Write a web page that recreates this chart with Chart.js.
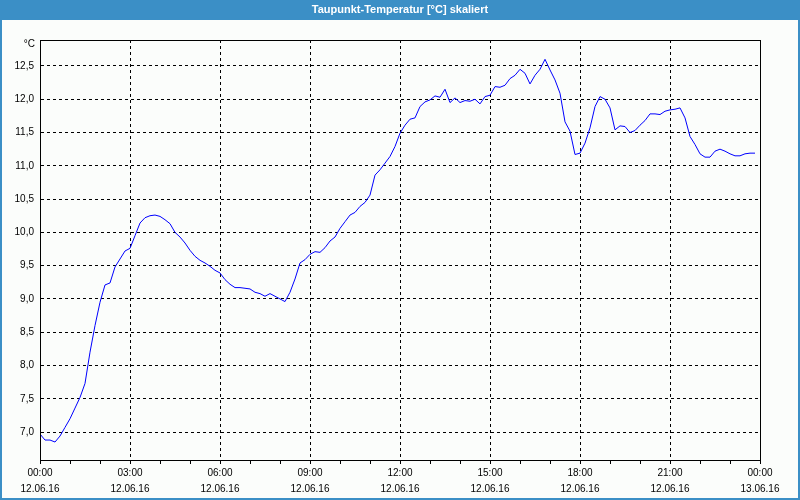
<!DOCTYPE html>
<html>
<head>
<meta charset="utf-8">
<script src="https://cdn.jsdelivr.net/npm/chart.js@4.4.1/dist/chart.umd.min.js"></script>
<style>
  html, body { margin: 0; padding: 0; background: #fbfdfb; }
  #wrap { position: relative; width: 800px; height: 500px; }
</style>
</head>
<body>
<div id="wrap"><canvas id="chart1" width="800" height="500"></canvas></div>
<script>
// Taupunkt-Temperatur, 12.06.16 00:00 - 23:50, 10-Minuten-Werte
const chartTitle = 'Taupunkt-Temperatur [°C] skaliert';
const unitLabel = '°C';
const stepMinutes = 10;
const dewpoint = [
  6.97, 6.88, 6.88, 6.85, 6.94, 7.07, 7.20, 7.36, 7.52, 7.73, 8.20, 8.60,
  8.95, 9.21, 9.24, 9.48, 9.60, 9.72, 9.76, 9.95, 10.14, 10.22, 10.25, 10.26,
  10.24, 10.19, 10.13, 10.00, 9.93, 9.84, 9.73, 9.64, 9.58, 9.54, 9.49, 9.43,
  9.39, 9.29, 9.22, 9.17, 9.17, 9.16, 9.15, 9.10, 9.08, 9.04, 9.08, 9.04,
  9.00, 8.96, 9.10, 9.30, 9.54, 9.59, 9.67, 9.71, 9.70, 9.77, 9.87, 9.93,
  10.06, 10.16, 10.26, 10.30, 10.39, 10.45, 10.56, 10.86, 10.94, 11.04, 11.14, 11.29,
  11.49, 11.61, 11.70, 11.72, 11.89, 11.96, 11.99, 12.05, 12.03, 12.15, 11.95, 12.02,
  11.95, 11.98, 11.97, 12.00, 11.93, 12.04, 12.06, 12.19, 12.18, 12.21, 12.31, 12.36,
  12.45, 12.39, 12.23, 12.36, 12.45, 12.60, 12.44, 12.29, 12.09, 11.66, 11.52, 11.17,
  11.19, 11.34, 11.57, 11.89, 12.04, 12.00, 11.87, 11.54, 11.60, 11.59, 11.50, 11.53,
  11.61, 11.68, 11.78, 11.78, 11.77, 11.82, 11.84, 11.85, 11.87, 11.72, 11.44, 11.32,
  11.18, 11.13, 11.13, 11.22, 11.25, 11.22, 11.18, 11.15, 11.15, 11.18, 11.19, 11.19
];
const yTicks = [7.0, 7.5, 8.0, 8.5, 9.0, 9.5, 10.0, 10.5, 11.0, 11.5, 12.0, 12.5];
const xTickTimes = ['00:00', '03:00', '06:00', '09:00', '12:00', '15:00', '18:00', '21:00', '00:00'];
const xTickDates = ['12.06.16', '12.06.16', '12.06.16', '12.06.16', '12.06.16', '12.06.16', '12.06.16', '12.06.16', '13.06.16'];

const points = dewpoint.map((v, i) => ({ x: i * stepMinutes, y: v }));
const tickFont = { family: 'Liberation Sans', size: 10, lineHeight: 1.6 };

// Titelleiste, Fensterrahmen und Rahmen um die Zeichenfläche
const framePlugin = {
  id: 'frame',
  beforeDraw(chart) {
    const c = chart.ctx;
    c.save();
    c.fillStyle = '#fbfdfb';
    c.fillRect(0, 0, chart.width, chart.height);
    c.fillStyle = '#3b8fc6';
    c.fillRect(0, 0, chart.width, 20);
    c.fillRect(0, 0, 2, chart.height);
    c.fillRect(chart.width - 2, 0, 2, chart.height);
    c.fillRect(0, chart.height - 2, chart.width, 2);
    c.fillStyle = '#ffffff';
    c.font = 'bold 11px "Liberation Sans"';
    c.textAlign = 'center';
    c.textBaseline = 'middle';
    c.fillText(chartTitle, chart.width / 2, 10);
    c.restore();
  },
  afterDraw(chart) {
    const a = chart.chartArea;
    const c = chart.ctx;
    c.save();
    c.strokeStyle = '#000000';
    c.lineWidth = 1;
    c.strokeRect(a.left + 0.5, a.top + 0.5, a.right - a.left, a.bottom - a.top);
    c.fillStyle = '#000000';
    c.font = '10px "Liberation Sans"';
    c.textAlign = 'right';
    c.textBaseline = 'middle';
    c.fillText(unitLabel, a.left - 5, a.top + 4);
    c.restore();
  }
};

new Chart(document.getElementById('chart1'), {
  type: 'line',
  data: {
    datasets: [{
      label: 'Taupunkt',
      data: points,
      borderColor: '#0000ff',
      borderWidth: 1,
      pointRadius: 0,
      tension: 0,
      fill: false
    }]
  },
  options: {
    responsive: false,
    animation: false,
    layout: { padding: { left: 0, right: 40, top: 40, bottom: 0 } },
    plugins: { legend: { display: false }, tooltip: { enabled: false }, title: { display: false } },
    scales: {
      x: {
        type: 'linear',
        min: 0,
        max: 1440,
        afterBuildTicks(scale) {
          const t = [];
          for (let m = 0; m <= 1440; m += 60) t.push({ value: m });
          scale.ticks = t;
        },
        afterFit(scale) { scale.height = 40; },
        border: { display: true, color: '#000000', width: 1, dash: [3, 3] },
        grid: {
          color: (ctx) => (ctx.tick && ctx.tick.value % 180 === 0 ? '#000000' : 'rgba(0,0,0,0)'),
          tickColor: '#000000',
          tickLength: 4,
          tickBorderDash: [],
          lineWidth: 1
        },
        ticks: {
          autoSkip: false,
          maxRotation: 0,
          padding: 1,
          color: '#000000',
          font: tickFont,
          callback: (v) => {
            if (v % 180 !== 0) return '';
            const i = v / 180;
            return [xTickTimes[i], xTickDates[i]];
          }
        }
      },
      y: {
        min: 6.58,
        max: 12.89,
        afterBuildTicks(scale) { scale.ticks = yTicks.map(v => ({ value: v })); },
        afterFit(scale) { scale.width = 40; },
        border: { display: true, color: '#000000', width: 1, dash: [3, 3] },
        grid: {
          color: '#000000',
          lineWidth: 1,
          drawTicks: false
        },
        ticks: {
          padding: 6,
          color: '#000000',
          font: { family: 'Liberation Sans', size: 10 },
          callback: (v) => v.toFixed(1).replace('.', ',')
        }
      }
    }
  },
  plugins: [framePlugin]
});
</script>
</body>
</html>
